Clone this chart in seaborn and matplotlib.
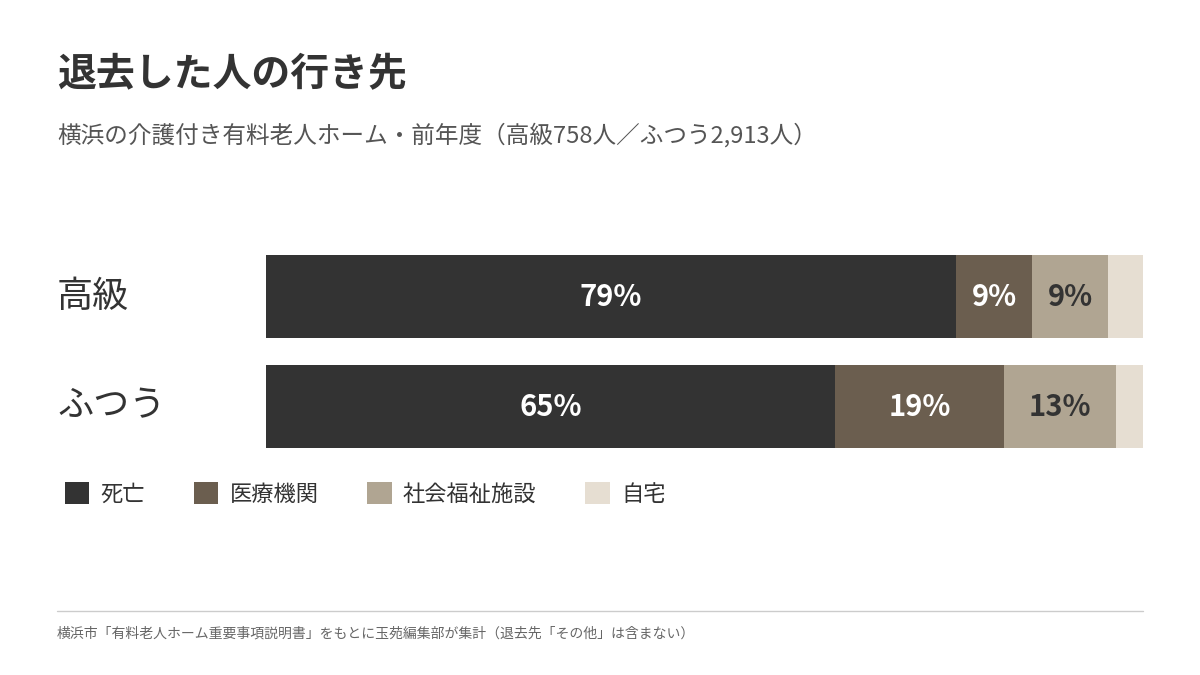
import matplotlib
matplotlib.use("Agg")
import matplotlib.pyplot as plt
import seaborn as sns
import pandas as pd
import numpy as np
from matplotlib.patches import Patch
from matplotlib.lines import Line2D

sns.set_theme(style="white")
plt.rcParams['font.family'] = ['Noto Sans CJK JP', 'DejaVu Sans']

groups = ["高級", "ふつう"]
categories = ["死亡", "医療機関", "社会福祉施設", "自宅"]
values = {
    "死亡": [78.7, 64.9],
    "医療機関": [8.7, 19.2],
    "社会福祉施設": [8.6, 12.8],
    "自宅": [4.0, 3.1],
}
labels = {
    "死亡": ["79%", "65%"],
    "医療機関": ["9%", "19%"],
    "社会福祉施設": ["9%", "13%"],
    "自宅": ["", ""],
}
colors = ["#333333", "#6b5e4f", "#b0a592", "#e6ded2"]
text_colors = ["white", "white", "#333333", "#333333"]

fig = plt.figure(figsize=(12, 6.75), dpi=100)
ax = fig.add_axes([266/1200, 1-448/675, (1143-266)/1200, 193/675])

vals = np.array([values[c] for c in categories])
cum = np.cumsum(vals, axis=0)
for k in range(len(categories)-1, -1, -1):
    df = pd.DataFrame({"group": groups, "v": cum[k]})
    sns.barplot(data=df, x="v", y="group", orient="h", color=colors[k],
                width=83/110, ax=ax, saturation=1, linewidth=0)
for k, c in enumerate(categories):
    for i in range(len(groups)):
        start = cum[k][i] - vals[k][i]
        ax.text(start + vals[k][i]/2, i, labels[c][i], ha="center", va="center",
                color=text_colors[k], fontsize=21, fontweight="bold")
ax.set_xlim(0, 100)
ax.set_ylim(1 + 0.5*193/110 - 0.5, -(0.5*193/110 - 0.5))
ax.axis("off")

for i, g in enumerate(groups):
    fig.text(57/1200, 1 - (296.5 + 110*i)/675, g, fontsize=26, color="#333333",
             ha="left", va="center")

fig.text(57/1200, 1-75/675, "退去した人の行き先", fontsize=28, color="#333333",
         ha="left", va="center", fontweight="bold")
fig.text(57/1200, 1-135/675, "横浜の介護付き有料老人ホーム・前年度（高級758人／ふつう2,913人）",
         fontsize=17, color="#555555", ha="left", va="center")

handles = [Patch(facecolor=col, edgecolor="none") for col in colors]
fig.legend(handles, categories, loc="center left", bbox_to_anchor=(45/1200, 1-494/675),
           ncol=4, frameon=False, fontsize=16, handlelength=1.1, handleheight=1.1,
           handletextpad=0.5, columnspacing=2.2, labelcolor="#333333")

fig.add_artist(Line2D([57/1200, 1143/1200], [1-611/675, 1-611/675], color="#cccccc", lw=1))
fig.text(57/1200, 1-634/675,
         "横浜市「有料老人ホーム重要事項説明書」をもとに玉苑編集部が集計（退去先「その他」は含まない）",
         fontsize=10, color="#666666", ha="left", va="center")

fig.savefig("out.png", dpi=100, facecolor="white")
